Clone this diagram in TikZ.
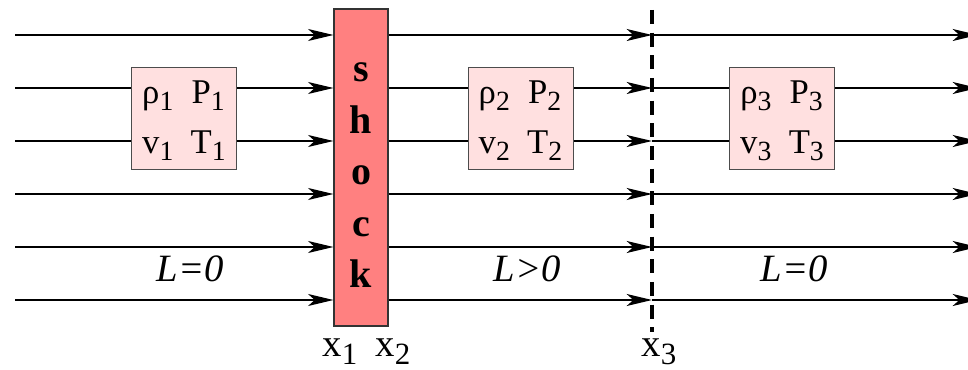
\documentclass[tikz,border=0pt]{standalone}
\usepackage{fontspec}
\usepackage{graphicx}
\setmainfont{Liberation Serif}
\usetikzlibrary{arrows.meta}
\definecolor{shockred}{HTML}{FF8080}
\definecolor{statepink}{HTML}{FFE0E0}
\tikzset{
  flow/.style={-{Stealth[length=19pt,width=9pt,inset=5pt]},line width=0.9pt},
  statebox/.style={draw=black!70,fill=statepink,line width=0.75pt,
    minimum width=78.75pt,minimum height=76.5pt,inner sep=0pt,
    font=\fontsize{26}{37.5}\selectfont},
  lbl/.style={font=\fontsize{29}{32}\selectfont,anchor=base},
}
\newcommand{\sub}[1]{\raisebox{-0.2em}{\scalebox{0.8}{#1}}}
\newcommand{\statevars}[1]{\raisebox{-5pt}{\begin{tabular}{@{}r@{\hspace{13pt}}c@{}}
  ρ\sub{#1} & P\sub{#1}\\
  v\sub{#1} & T\sub{#1}
\end{tabular}}}
\begin{document}
\begin{tikzpicture}[x=0.75pt,y=-0.75pt]
\clip (0,0) rectangle (968,370);

% shock layer
\node[draw=black!80,fill=shockred,line width=0.9pt,minimum width=40.5pt,
  minimum height=237.75pt,inner sep=0pt] (shock) at (361,167.5) {};
\foreach \ch [count=\i from 0] in {s,h,o,c,k}
  \node[anchor=base,font=\fontsize{30}{30}\selectfont\bfseries] (ch\i) at (361,82+51.5*\i) {\ch};

% dashed boundary
\coordinate (x3top) at (652,10);
\coordinate (x3bot) at (652,332);
\draw[line width=2.4pt,dash pattern=on 10.5pt off 6.5pt] (x3top) -- (x3bot);

% stream lines
\foreach \y [count=\i] in {35,88,141,194,247,300} {
  \coordinate (in\i) at (15,\y);
  \coordinate (mid\i) at (652,\y);
  \coordinate (out\i) at (978,\y);
  \draw[flow] (in\i) -- (shock.west |- in\i);
  \draw[flow] (shock.east |- in\i) -- (mid\i);
  \draw[flow] (mid\i) -- (out\i);
}

% states
\node[statebox] (box1) at (184,118.5) {\statevars{1}};
\node[statebox] (box2) at (520.5,118.5) {\statevars{2}};
\node[statebox] (box3) at (782,118.5) {\statevars{3}};

\node[lbl] (len1) at (190,282) {\textit{L=0}};
\node[lbl] (len2) at (527,282) {\textit{L>0}};
\node[lbl] (len3) at (794,282) {\textit{L=0}};

\node[lbl] (xa) at (340,357) {x\sub{1}};
\node[lbl] (xb) at (393,357) {x\sub{2}};
\node[lbl] (xc) at (659,357) {x\sub{3}};
\end{tikzpicture}
\end{document}
